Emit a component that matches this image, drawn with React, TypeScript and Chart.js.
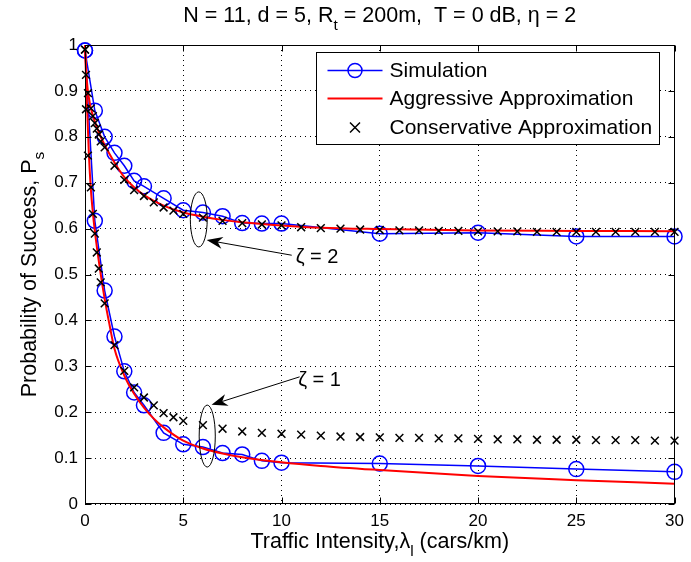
import React, { useEffect, useRef } from 'react';
import { Chart, registerables } from 'chart.js';

Chart.register(...registerables);

const FONT = "'Liberation Sans', Arial, Helvetica, sans-serif";

// ---------- data ----------
const xTickValues = [0, 5, 10, 15, 20, 25, 30];
const yTickValues = [0, 0.1, 0.2, 0.3, 0.4, 0.5, 0.6, 0.7, 0.8, 0.9, 1];

const simX = [0, 0.5, 1, 1.5, 2, 2.5, 3, 4, 5, 6, 7, 8, 9, 10, 15, 20, 25, 30];
const simZeta2 = [0.988, 0.857, 0.8, 0.765, 0.737, 0.704, 0.692, 0.666, 0.64, 0.635, 0.627, 0.612, 0.611, 0.611, 0.589, 0.591, 0.583, 0.583];
const simZeta1 = [0.988, 0.617, 0.465, 0.365, 0.289, 0.243, 0.215, 0.155, 0.13, 0.124, 0.111, 0.108, 0.094, 0.09, 0.088, 0.083, 0.076, 0.07];

const aggX1 = [0, 0.1, 0.2, 0.3, 0.4, 0.5, 0.75, 1, 1.25, 1.5, 2, 2.5, 3, 3.5, 4, 5, 6, 7, 8, 10, 12, 15, 20, 25, 30];
const aggZeta1 = [1.0, 0.87, 0.76, 0.685, 0.635, 0.595, 0.515, 0.447, 0.39, 0.338, 0.28, 0.24, 0.21, 0.186, 0.167, 0.138, 0.121, 0.11, 0.102, 0.091, 0.083, 0.074, 0.061, 0.052, 0.044];
const aggX2 = [0, 0.1, 0.2, 0.3, 0.5, 0.75, 1, 1.5, 2, 2.5, 3, 4, 5, 6, 7, 8, 10, 12, 15, 20, 25, 30];
const aggZeta2 = [1.0, 0.92, 0.885, 0.862, 0.833, 0.805, 0.782, 0.744, 0.712, 0.69, 0.673, 0.65, 0.635, 0.626, 0.619, 0.614, 0.607, 0.602, 0.599, 0.596, 0.595, 0.594];

const consX = [0, 0.05, 0.15, 0.3, 0.4, 0.5, 0.6, 0.7, 0.8, 1, 1.5, 2, 2.5, 3, 3.5, 4, 4.5, 5,
  6, 7, 8, 9, 10, 11, 12, 13, 14, 15, 16, 17, 18, 19, 20, 21, 22, 23, 24, 25, 26, 27, 28, 29, 30];
const consZeta2 = [0.99, 0.935, 0.895, 0.862, 0.845, 0.83, 0.818, 0.805, 0.79, 0.777, 0.737, 0.706, 0.684, 0.671, 0.657, 0.646, 0.639, 0.632,
  0.624, 0.617, 0.612, 0.609, 0.607, 0.603, 0.601, 0.6, 0.598, 0.597, 0.596, 0.596, 0.595, 0.595, 0.594, 0.594, 0.594, 0.593, 0.593, 0.593, 0.593, 0.593, 0.593, 0.593, 0.593];
const consZeta1 = [0.99, 0.86, 0.759, 0.69, 0.632, 0.589, 0.548, 0.513, 0.483, 0.437, 0.346, 0.29, 0.254, 0.232, 0.215, 0.198, 0.189, 0.181,
  0.172, 0.164, 0.158, 0.155, 0.153, 0.151, 0.149, 0.147, 0.146, 0.145, 0.144, 0.144, 0.143, 0.143, 0.142, 0.141, 0.141, 0.14, 0.14, 0.14, 0.139, 0.139, 0.139, 0.138, 0.138];

const titleParts = [{ t: 'N = 11, d = 5, R' }, { t: 't', sub: true }, { t: ' = 200m,  T = 0 dB, \u03b7 = 2' }];
const xLabelParts = [{ t: 'Traffic Intensity,\u03bb' }, { t: 'l', sub: true }, { t: ' (cars/km)' }];
const yLabelParts = [{ t: 'Probability of Success, P' }, { t: 's', sub: true }];
const legendLabels = ['Simulation', 'Aggressive Approximation', 'Conservative Approximation'];

// annotations (data coordinates)
const zetaLabels = ['\u03b6 = 2', '\u03b6 = 1'];
const ellipseCenters = [[5.79, 0.62], [6.22, 0.148]];
const ellipseRadii = [[0.43, 0.06], [0.41, 0.0675]];
const arrowTails = [[10.52, 0.542], [10.92, 0.277]];
const arrowTips = [[6.19, 0.575], [6.44, 0.216]];
const labelAnchors = [[10.72, 0.525], [10.85, 0.257]];

const BLUE = '#0000ff';
const RED = '#ff0000';

type Part = { t: string; sub?: boolean };

function drawRich(ctx: CanvasRenderingContext2D, parts: Part[], x: number, y: number, size: number, align: 'center' | 'left') {
  const subSize = size * 0.72;
  let total = 0;
  const widths = parts.map((p) => {
    ctx.font = `${p.sub ? subSize : size}px ${FONT}`;
    const w = ctx.measureText(p.t).width;
    total += w;
    return w;
  });
  let cx = align === 'center' ? x - total / 2 : x;
  ctx.textAlign = 'left';
  ctx.textBaseline = 'alphabetic';
  parts.forEach((p, i) => {
    ctx.font = `${p.sub ? subSize : size}px ${FONT}`;
    ctx.fillText(p.t, cx, p.sub ? y + size * 0.38 : y);
    cx += widths[i];
  });
}

function drawArrow(ctx: CanvasRenderingContext2D, x0: number, y0: number, x1: number, y1: number) {
  const ang = Math.atan2(y1 - y0, x1 - x0);
  const L = 16, W = 6;
  const bx = x1 - L * Math.cos(ang), by = y1 - L * Math.sin(ang);
  const nx = x1 - L * 0.7 * Math.cos(ang), ny = y1 - L * 0.7 * Math.sin(ang);
  ctx.beginPath();
  ctx.moveTo(x0, y0);
  ctx.lineTo(nx, ny);
  ctx.lineWidth = 1;
  ctx.strokeStyle = '#000';
  ctx.stroke();
  ctx.beginPath();
  ctx.moveTo(x1, y1);
  ctx.lineTo(bx - W * Math.sin(ang), by + W * Math.cos(ang));
  ctx.lineTo(nx, ny);
  ctx.lineTo(bx + W * Math.sin(ang), by - W * Math.cos(ang));
  ctx.closePath();
  ctx.fillStyle = '#000';
  ctx.fill();
}

const decorPlugin = {
  id: 'decor',
  afterDraw(chart: any) {
    const ctx: CanvasRenderingContext2D = chart.ctx;
    const { left, right, top, bottom } = chart.chartArea;
    const xs = chart.scales.x;
    const ys = chart.scales.y;
    ctx.save();

    // annotations
    ctx.strokeStyle = '#000';
    ctx.lineWidth = 1;
    ellipseCenters.forEach((c, i) => {
      const cx = xs.getPixelForValue(c[0]);
      const cy = ys.getPixelForValue(c[1]);
      const rx = Math.abs(xs.getPixelForValue(c[0] + ellipseRadii[i][0]) - cx);
      const ry = Math.abs(ys.getPixelForValue(c[1] + ellipseRadii[i][1]) - cy);
      ctx.beginPath();
      ctx.ellipse(cx, cy, rx, ry, 0, 0, Math.PI * 2);
      ctx.stroke();
    });
    arrowTails.forEach((t, i) => {
      drawArrow(ctx, xs.getPixelForValue(t[0]), ys.getPixelForValue(t[1]),
        xs.getPixelForValue(arrowTips[i][0]), ys.getPixelForValue(arrowTips[i][1]));
    });
    ctx.fillStyle = '#000';
    zetaLabels.forEach((lab, i) => {
      ctx.font = `20px ${FONT}`;
      ctx.textAlign = 'left';
      ctx.textBaseline = 'alphabetic';
      ctx.fillText(lab, xs.getPixelForValue(labelAnchors[i][0]), ys.getPixelForValue(labelAnchors[i][1]));
    });

    // axes box + inward ticks
    const L = Math.round(left) + 0.5, R = Math.round(right) - 0.5;
    const T = Math.round(top) + 0.5, B = Math.round(bottom) - 0.5;
    ctx.strokeStyle = '#000';
    ctx.lineWidth = 1;
    ctx.setLineDash([]);
    ctx.strokeRect(L, T, R - L, B - T);
    ctx.beginPath();
    xTickValues.forEach((v) => {
      const px = Math.round(xs.getPixelForValue(v)) + 0.5;
      ctx.moveTo(px, B); ctx.lineTo(px, B - 6);
      ctx.moveTo(px, T); ctx.lineTo(px, T + 6);
    });
    yTickValues.forEach((v) => {
      const py = Math.round(ys.getPixelForValue(v)) + 0.5;
      ctx.moveTo(L, py); ctx.lineTo(L + 6, py);
      ctx.moveTo(R, py); ctx.lineTo(R - 6, py);
    });
    ctx.stroke();

    // legend
    const bl = Math.round(right) - 359 + 0.5, bt = Math.round(top) + 7 + 0.5;
    const bw = 343, bh = 92;
    ctx.fillStyle = '#fff';
    ctx.fillRect(bl, bt, bw, bh);
    ctx.strokeStyle = '#000';
    ctx.strokeRect(bl, bt, bw, bh);
    const rows = [bt + 18, bt + 46, bt + 75];
    const sx0 = bl + 11, sx1 = bl + 66, smid = (sx0 + sx1) / 2;
    // simulation sample
    ctx.strokeStyle = BLUE; ctx.lineWidth = 1.5;
    ctx.beginPath(); ctx.moveTo(sx0, rows[0]); ctx.lineTo(sx1, rows[0]); ctx.stroke();
    ctx.beginPath(); ctx.arc(smid, rows[0], 7, 0, Math.PI * 2); ctx.stroke();
    // aggressive sample
    ctx.strokeStyle = RED; ctx.lineWidth = 2;
    ctx.beginPath(); ctx.moveTo(sx0, rows[1]); ctx.lineTo(sx1, rows[1]); ctx.stroke();
    // conservative sample
    ctx.strokeStyle = '#000'; ctx.lineWidth = 1.5;
    ctx.beginPath();
    ctx.moveTo(smid - 5, rows[2] - 5); ctx.lineTo(smid + 5, rows[2] + 5);
    ctx.moveTo(smid + 5, rows[2] - 5); ctx.lineTo(smid - 5, rows[2] + 5);
    ctx.stroke();
    ctx.fillStyle = '#000';
    ctx.font = `21px ${FONT}`;
    ctx.textAlign = 'left';
    ctx.textBaseline = 'middle';
    legendLabels.forEach((lab, i) => ctx.fillText(lab, bl + 73, rows[i] + 1));

    // title and axis titles
    const midX = (left + right) / 2;
    ctx.fillStyle = '#000';
    drawRich(ctx, titleParts, midX, 22, 21.5, 'center');
    drawRich(ctx, xLabelParts, midX, 548, 21.5, 'center');
    ctx.translate(36, (top + bottom) / 2);
    ctx.rotate(-Math.PI / 2);
    drawRich(ctx, yLabelParts, 0, 0, 21.5, 'center');
    ctx.restore();
  },
};

export default function App() {
  const ref = useRef<HTMLCanvasElement | null>(null);

  useEffect(() => {
    document.body.style.margin = '0';
    const canvas = ref.current;
    if (!canvas) return;
    const pts = (xs: number[], ys: number[]) => xs.map((x, i) => ({ x, y: ys[i] }));
    const simStyle = {
      borderColor: BLUE, borderWidth: 1.5, pointRadius: 7.5, pointBorderWidth: 1.5,
      pointBorderColor: BLUE, pointBackgroundColor: 'rgba(0,0,0,0)', pointStyle: 'circle',
      showLine: true, clip: false, order: 3, tension: 0,
    };
    const aggStyle = {
      borderColor: RED, borderWidth: 2, pointRadius: 0, showLine: true,
      cubicInterpolationMode: 'monotone', clip: false, order: 2,
    };
    const consStyle = {
      borderColor: '#000', pointBorderColor: '#000', pointBackgroundColor: '#000', pointStyle: 'crossRot',
      pointRadius: 5.5, pointBorderWidth: 1.5, showLine: false, clip: false, order: 1,
    };
    const chart = new Chart(canvas, {
      type: 'line',
      data: {
        datasets: [
          { label: 'Simulation ζ=2', data: pts(simX, simZeta2), ...simStyle },
          { label: 'Simulation ζ=1', data: pts(simX, simZeta1), ...simStyle },
          { label: 'Aggressive ζ=2', data: pts(aggX2, aggZeta2), ...aggStyle },
          { label: 'Aggressive ζ=1', data: pts(aggX1, aggZeta1), ...aggStyle },
          { label: 'Conservative ζ=2', data: pts(consX, consZeta2), ...consStyle },
          { label: 'Conservative ζ=1', data: pts(consX, consZeta1), ...consStyle },
        ] as any,
      },
      options: {
        responsive: false,
        animation: false,
        devicePixelRatio: 1,
        events: [],
        layout: { padding: { left: 0, right: 10, top: 45, bottom: 0 } },
        plugins: { legend: { display: false }, tooltip: { enabled: false }, title: { display: false } },
        scales: {
          x: {
            type: 'linear', min: 0, max: 30,
            afterBuildTicks: (s: any) => { s.ticks = xTickValues.map((v) => ({ value: v })); },
            afterFit: (s: any) => { s.height = 58; },
            ticks: { padding: 7, color: '#000', font: { family: FONT, size: 17 }, maxRotation: 0, autoSkip: false },
            grid: { color: '#000', lineWidth: 1, drawTicks: false },
            border: { display: false, dash: [1, 4] },
          },
          y: {
            type: 'linear', min: 0, max: 1,
            afterBuildTicks: (s: any) => { s.ticks = yTickValues.map((v) => ({ value: v })); },
            afterFit: (s: any) => { s.width = 85; },
            ticks: {
              padding: 7, color: '#000', font: { family: FONT, size: 17 },
              callback: (v: any) => String(Math.round(Number(v) * 10) / 10),
            },
            grid: { color: '#000', lineWidth: 1, drawTicks: false },
            border: { display: false, dash: [1, 4] },
          },
        },
      } as any,
      plugins: [decorPlugin],
    });
    return () => chart.destroy();
  }, []);

  return (
    <div style={{ width: 691, height: 562 }}>
      <canvas ref={ref} width={691} height={562} style={{ display: 'block' }} />
    </div>
  );
}
